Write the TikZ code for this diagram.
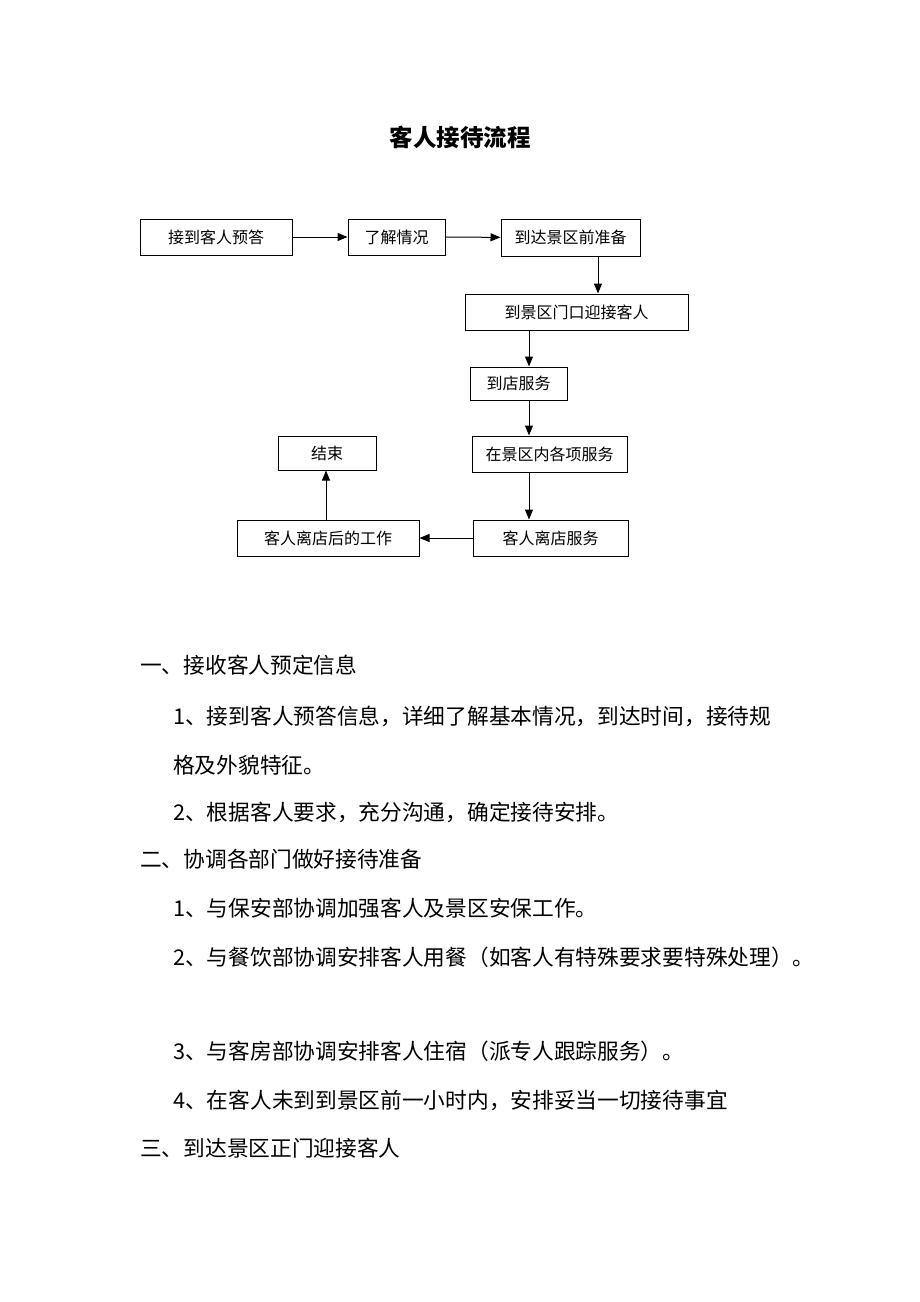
\documentclass[tikz,border=0pt]{standalone}
\usepackage{fontspec}
\setmainfont{Noto Sans CJK SC}
\usepackage{tikz}
\usetikzlibrary{arrows.meta}

\begin{document}
\begin{tikzpicture}[x=1pt,y=-1pt,
    box/.style={draw, line width=1pt, inner sep=0pt, font=\fontsize{16}{18}\selectfont},
    arr/.style={line width=1pt, -{Triangle[length=10pt,width=8pt]}},
    para/.style={anchor=west, inner sep=0pt, font=\fontsize{21.7}{24}\selectfont}]
    \useasboundingbox (0,0) rectangle (920,1302);
    \node (title) at (460,137) {\fontsize{23.5}{28}\selectfont\bfseries 客人接待流程};
    % flow
    \node[box, minimum width=152, minimum height=36] (yd) at (216,237) {接到客人预答};
    \node[box, minimum width=97, minimum height=36] (lj) at (396.5,237) {了解情况};
    \node[box, minimum width=139, minimum height=37] (zb) at (570.5,237.5) {到达景区前准备};
    \node[box, minimum width=223, minimum height=36] (yj) at (576.5,312) {到景区门口迎接客人};
    \node[box, minimum width=97, minimum height=33] (dd) at (518.5,383.5) {到店服务};
    \node[box, minimum width=155, minimum height=36] (gx) at (549.5,454) {在景区内各项服务};
    \node[box, minimum width=155, minimum height=36] (ld) at (550.5,538) {客人离店服务};
    \node[box, minimum width=182, minimum height=36] (gz) at (328,538) {客人离店后的工作};
    \node[box, minimum width=98, minimum height=34] (js) at (327,453) {结束};
    \draw[arr] (yd) -- (lj);
    \draw[arr] (lj) -- (zb);
    \draw[arr] ([xshift=27.5pt]zb.south) -- ([xshift=27.5pt]zb.south |- yj.north);
    \draw[arr] ([xshift=10.5pt]dd.north |- yj.south) -- ([xshift=10.5pt]dd.north);
    \draw[arr] ([xshift=10.5pt]dd.south) -- ([xshift=10.5pt]dd.south |- gx.north);
    \draw[arr] ([xshift=-20.5pt]gx.south) -- ([xshift=-20.5pt]gx.south |- ld.north);
    \draw[arr] (ld) -- (gz);
    \draw[arr] ([xshift=-2pt]gz.north) -- ([xshift=-2pt]gz.north |- js.south);
    % text
    \node[para] (t1) at (140,665) {一、接收客人预定信息};
    \node[para] (t2) at (173,716) {1、接到客人预答信息，详细了解基本情况，到达时间，接待规};
    \node[para] (t3) at (173,765) {格及外貌特征。};
    \node[para] (t4) at (173,812) {2、根据客人要求，充分沟通，确定接待安排。};
    \node[para] (t5) at (140,859) {二、协调各部门做好接待准备};
    \node[para] (t6) at (173,908) {1、与保安部协调加强客人及景区安保工作。};
    \node[para] (t7) at (173,957) {2、与餐饮部协调安排客人用餐（如客人有特殊要求要特殊处理）。};
    \node[para] (t8) at (173,1051) {3、与客房部协调安排客人住宿（派专人跟踪服务）。};
    \node[para] (t9) at (173,1100) {4、在客人未到到景区前一小时内，安排妥当一切接待事宜};
    \node[para] (t10) at (140,1148) {三、到达景区正门迎接客人};
\end{tikzpicture}
\end{document}
